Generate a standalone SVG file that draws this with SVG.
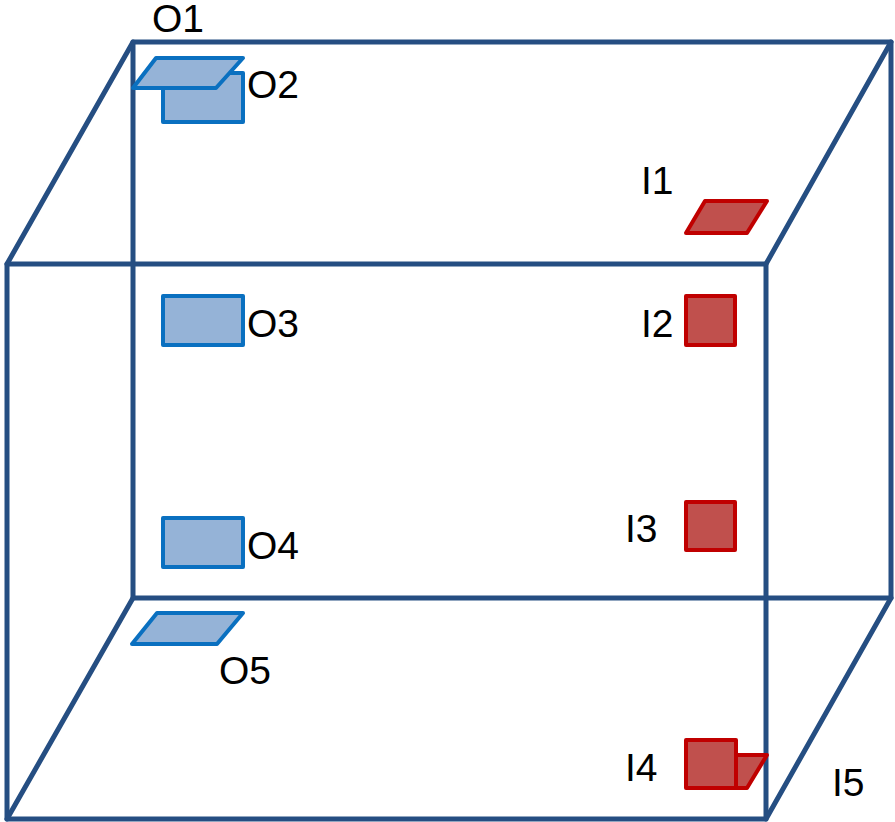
<svg xmlns="http://www.w3.org/2000/svg" width="895" height="822" viewBox="0 0 895 822">
  <style>
    .frame { fill: none; stroke: #254E82; stroke-width: 5; stroke-linejoin: round; stroke-linecap: round; }
    .out { fill: #95B3D7; stroke: #0A70C0; stroke-width: 4; stroke-linejoin: round; }
    .in { fill: #C0504D; stroke: #C00000; stroke-width: 4; stroke-linejoin: round; }
    .lbl { font-family: "Liberation Sans", Arial, sans-serif; font-size: 39px; fill: #000; }
  </style>

  <!-- box wireframe -->
  <g id="connectors">
    <rect class="frame" x="133" y="42" width="758" height="556"/>
    <rect class="frame" x="7" y="264" width="759" height="555"/>
    <line class="frame" x1="133" y1="42" x2="7" y2="264"/>
    <line class="frame" x1="891" y1="42" x2="766" y2="264"/>
    <line class="frame" x1="133" y1="598" x2="7" y2="819"/>
    <line class="frame" x1="891" y1="598" x2="766" y2="819"/>
  </g>

  <!-- outlets -->
  <g id="O2">
    <rect class="out" x="163" y="73" width="80" height="49"/>
    <text class="lbl" x="247" y="98">O2</text>
  </g>
  <g id="O1">
    <polygon class="out" points="156,58 243,58 216,88 133,88"/>
    <text class="lbl" x="152" y="32">O1</text>
  </g>
  <g id="O3">
    <rect class="out" x="163" y="296" width="80" height="49"/>
    <text class="lbl" x="247" y="337">O3</text>
  </g>
  <g id="O4">
    <rect class="out" x="163" y="518" width="80" height="49"/>
    <text class="lbl" x="247" y="559">O4</text>
  </g>
  <g id="O5">
    <polygon class="out" points="157,613 243,613 217,644 132,644"/>
    <text class="lbl" x="219" y="684">O5</text>
  </g>

  <!-- inlets -->
  <g id="I1">
    <polygon class="in" points="705,201 767,201 747,233 686,233"/>
    <text class="lbl" x="641" y="194">I1</text>
  </g>
  <g id="I2">
    <rect class="in" x="686" y="296" width="49" height="49"/>
    <text class="lbl" x="641" y="337">I2</text>
  </g>
  <g id="I3">
    <rect class="in" x="686" y="502" width="49" height="48"/>
    <text class="lbl" x="625" y="542">I3</text>
  </g>
  <g id="I5">
    <polygon class="in" points="736,755 767,755 747,788 736,788"/>
    <text class="lbl" x="832" y="796">I5</text>
  </g>
  <g id="I4">
    <rect class="in" x="686" y="740" width="50" height="48"/>
    <text class="lbl" x="625" y="781">I4</text>
  </g>
</svg>
